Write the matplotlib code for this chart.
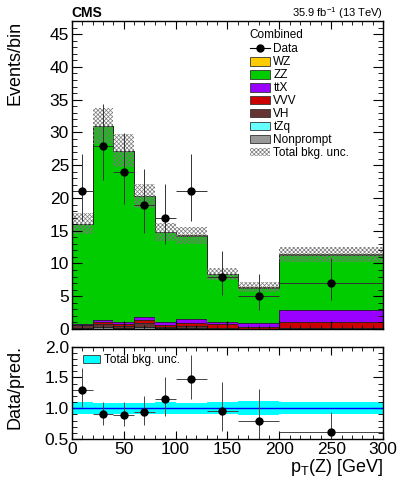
import numpy as np
import matplotlib
matplotlib.use("Agg")
import matplotlib.pyplot as plt
from matplotlib.patches import Patch
from matplotlib.lines import Line2D
from matplotlib.ticker import MultipleLocator

plt.rcParams['font.family'] = ['Liberation Sans', 'DejaVu Sans']
plt.rcParams['mathtext.fontset'] = 'custom'
plt.rcParams['mathtext.rm'] = 'Liberation Sans'
plt.rcParams['mathtext.it'] = 'Liberation Sans'
plt.rcParams['hatch.linewidth'] = 0.5
plt.rcParams['hatch.color'] = '#7a7a7a'

# --- data ---
edges = [0, 20, 40, 60, 80, 100, 130, 160, 200, 300]
centers = [10, 30, 50, 70, 90, 115, 145, 180, 250]
halfwidth = [10, 10, 10, 10, 10, 15, 15, 20, 50]

nonprompt = [0.20, 0.30, 0.15, 0.30, 0.15, 0.20, 0.05, 0.02, 0.05]
tzq = [0.02, 0.02, 0.02, 0.02, 0.02, 0.02, 0.02, 0.01, 0.03]
vh = [0.33, 0.45, 0.35, 0.60, 0.20, 0.20, 0.10, 0.02, 0.05]
vvv = [0.05, 0.30, 0.30, 0.40, 0.30, 0.50, 0.55, 0.25, 1.00]
ttx = [0.10, 0.30, 0.30, 0.50, 0.45, 0.55, 0.30, 0.55, 1.82]
zz = [15.35, 29.58, 26.03, 18.43, 13.63, 12.78, 7.33, 5.45, 8.40]
wz = [0.05, 0.05, 0.05, 0.05, 0.05, 0.05, 0.05, 0.05, 0.05]

bkg_unc = [1.6, 2.8, 2.5, 1.8, 1.4, 1.3, 0.85, 0.75, 1.1]

data = [21, 28, 24, 19, 17, 21, 8, 5, 7]
data_err_lo = [4.55, 5.27, 4.87, 4.33, 4.10, 4.55, 2.77, 2.16, 2.58]
data_err_hi = [5.67, 6.35, 5.97, 5.47, 5.20, 5.67, 3.96, 3.38, 3.77]

# stack order: bottom to top
components = [
    ('Nonprompt', nonprompt, '#999999'),
    ('tZq', tzq, '#66ffff'),
    ('VH', vh, '#663333'),
    ('VVV', vvv, '#cc0000'),
    ('ttX', ttx, '#9900ff'),
    ('ZZ', zz, '#00cc00'),
    ('WZ', wz, '#ffcc00'),
]

fig = plt.figure(figsize=(3.99, 4.83), dpi=100)
ax = fig.add_axes([0.180, 0.3188, 0.780, 0.6377])
rax = fig.add_axes([0.180, 0.0911, 0.780, 0.1911])

bottom = np.zeros(len(centers))
for name, vals, col in components:
    top = bottom + np.array(vals)
    ax.stairs(top, edges, baseline=bottom, fill=True, color=col, lw=0)
    ax.stairs(top, edges, baseline=None, color='#222222', lw=0.6)
    bottom = top
total = bottom
unc = np.array(bkg_unc)

ax.stairs(total + unc, edges, baseline=total - unc, fill=True,
          facecolor='none', edgecolor='#7a7a7a', hatch='xxxxxxxx', lw=0)

ax.errorbar(centers, data, xerr=halfwidth, yerr=[data_err_lo, data_err_hi],
            fmt='o', color='black', ecolor='#333333', elinewidth=0.7,
            markersize=5, capsize=0)

ax.set_xlim(0, 300)
ax.set_ylim(0, 47)
ax.yaxis.set_major_locator(MultipleLocator(5))
ax.yaxis.set_minor_locator(MultipleLocator(1))
ax.xaxis.set_major_locator(MultipleLocator(50))
ax.xaxis.set_minor_locator(MultipleLocator(10))
ax.tick_params(labelbottom=False)

# ratio panel
ratio = np.array(data) / total
r_lo = np.array(data_err_lo) / total
r_hi = np.array(data_err_hi) / total
rel_unc = unc / total
rax.stairs(1 + rel_unc, edges, baseline=1 - rel_unc, fill=True, color='#00ffff', lw=0)
rax.axhline(1.0, color='#0000ff', lw=1.0)
rax.errorbar(centers, ratio, xerr=halfwidth, yerr=[r_lo, r_hi],
             fmt='o', color='black', ecolor='#444444', elinewidth=0.7,
             markersize=5, capsize=0)
rax.set_xlim(0, 300)
rax.set_ylim(0.5, 2.0)
rax.yaxis.set_major_locator(MultipleLocator(0.5))
rax.yaxis.set_minor_locator(MultipleLocator(0.1))
rax.xaxis.set_major_locator(MultipleLocator(50))
rax.xaxis.set_minor_locator(MultipleLocator(10))
rax.yaxis.set_major_formatter(matplotlib.ticker.FormatStrFormatter('%.1f'))

for a in (ax, rax):
    a.tick_params(which='both', direction='in', top=True, right=True, labelsize=12.5, pad=2)
    a.tick_params(which='major', axis='y', length=7)
    a.tick_params(which='minor', axis='y', length=3.5)
    a.tick_params(which='major', axis='x', length=6)
    a.tick_params(which='minor', axis='x', length=3)
    for s in a.spines.values():
        s.set_linewidth(1.0)

# legends
handles = [Line2D([], [], color='black', marker='o', markersize=5, lw=0.8)]
labels = ['Data']
for name, vals, col in components[::-1]:
    handles.append(Patch(facecolor=col, edgecolor='#333333', lw=0.6))
    labels.append(name)
handles.append(Patch(facecolor='white', edgecolor='#7a7a7a', hatch='xxxxxxxx', lw=0))
labels.append('Total bkg. unc.')
ax.text(0.572, 0.9545, 'Combined', transform=ax.transAxes, fontsize=8.5,
        ha='left', va='center')
ax.legend(handles, labels, loc='upper left',
          bbox_to_anchor=(0.572, 0.927), frameon=False, fontsize=8.5,
          handlelength=1.7, handleheight=0.75, handletextpad=0.3,
          labelspacing=0.08, borderpad=0, borderaxespad=0)

rax.legend([Patch(facecolor='#00ffff', edgecolor='#333333', lw=0.6)], ['Total bkg. unc.'],
           loc='upper left', bbox_to_anchor=(0.035, 0.92), frameon=False, fontsize=8.5,
           handlelength=1.5, handleheight=0.75, handletextpad=0.3,
           borderpad=0, borderaxespad=0)

fig.text(0.180, 0.9654, 'CMS', fontsize=10, fontweight='bold', ha='left', va='baseline')
fig.text(0.960, 0.9654, r'35.9 fb$^{-1}$ (13 TeV)', fontsize=8, ha='right', va='baseline')
fig.text(0.038, 0.956, 'Events/bin', rotation=90, fontsize=13, ha='center', va='top')
fig.text(0.038, 0.285, 'Data/pred.', rotation=90, fontsize=13, ha='center', va='top')
fig.text(0.960, 0.022, r'p$_{\mathrm{T}}$(Z) [GeV]', fontsize=13, ha='right', va='baseline')

fig.savefig('out.png', dpi=100)
